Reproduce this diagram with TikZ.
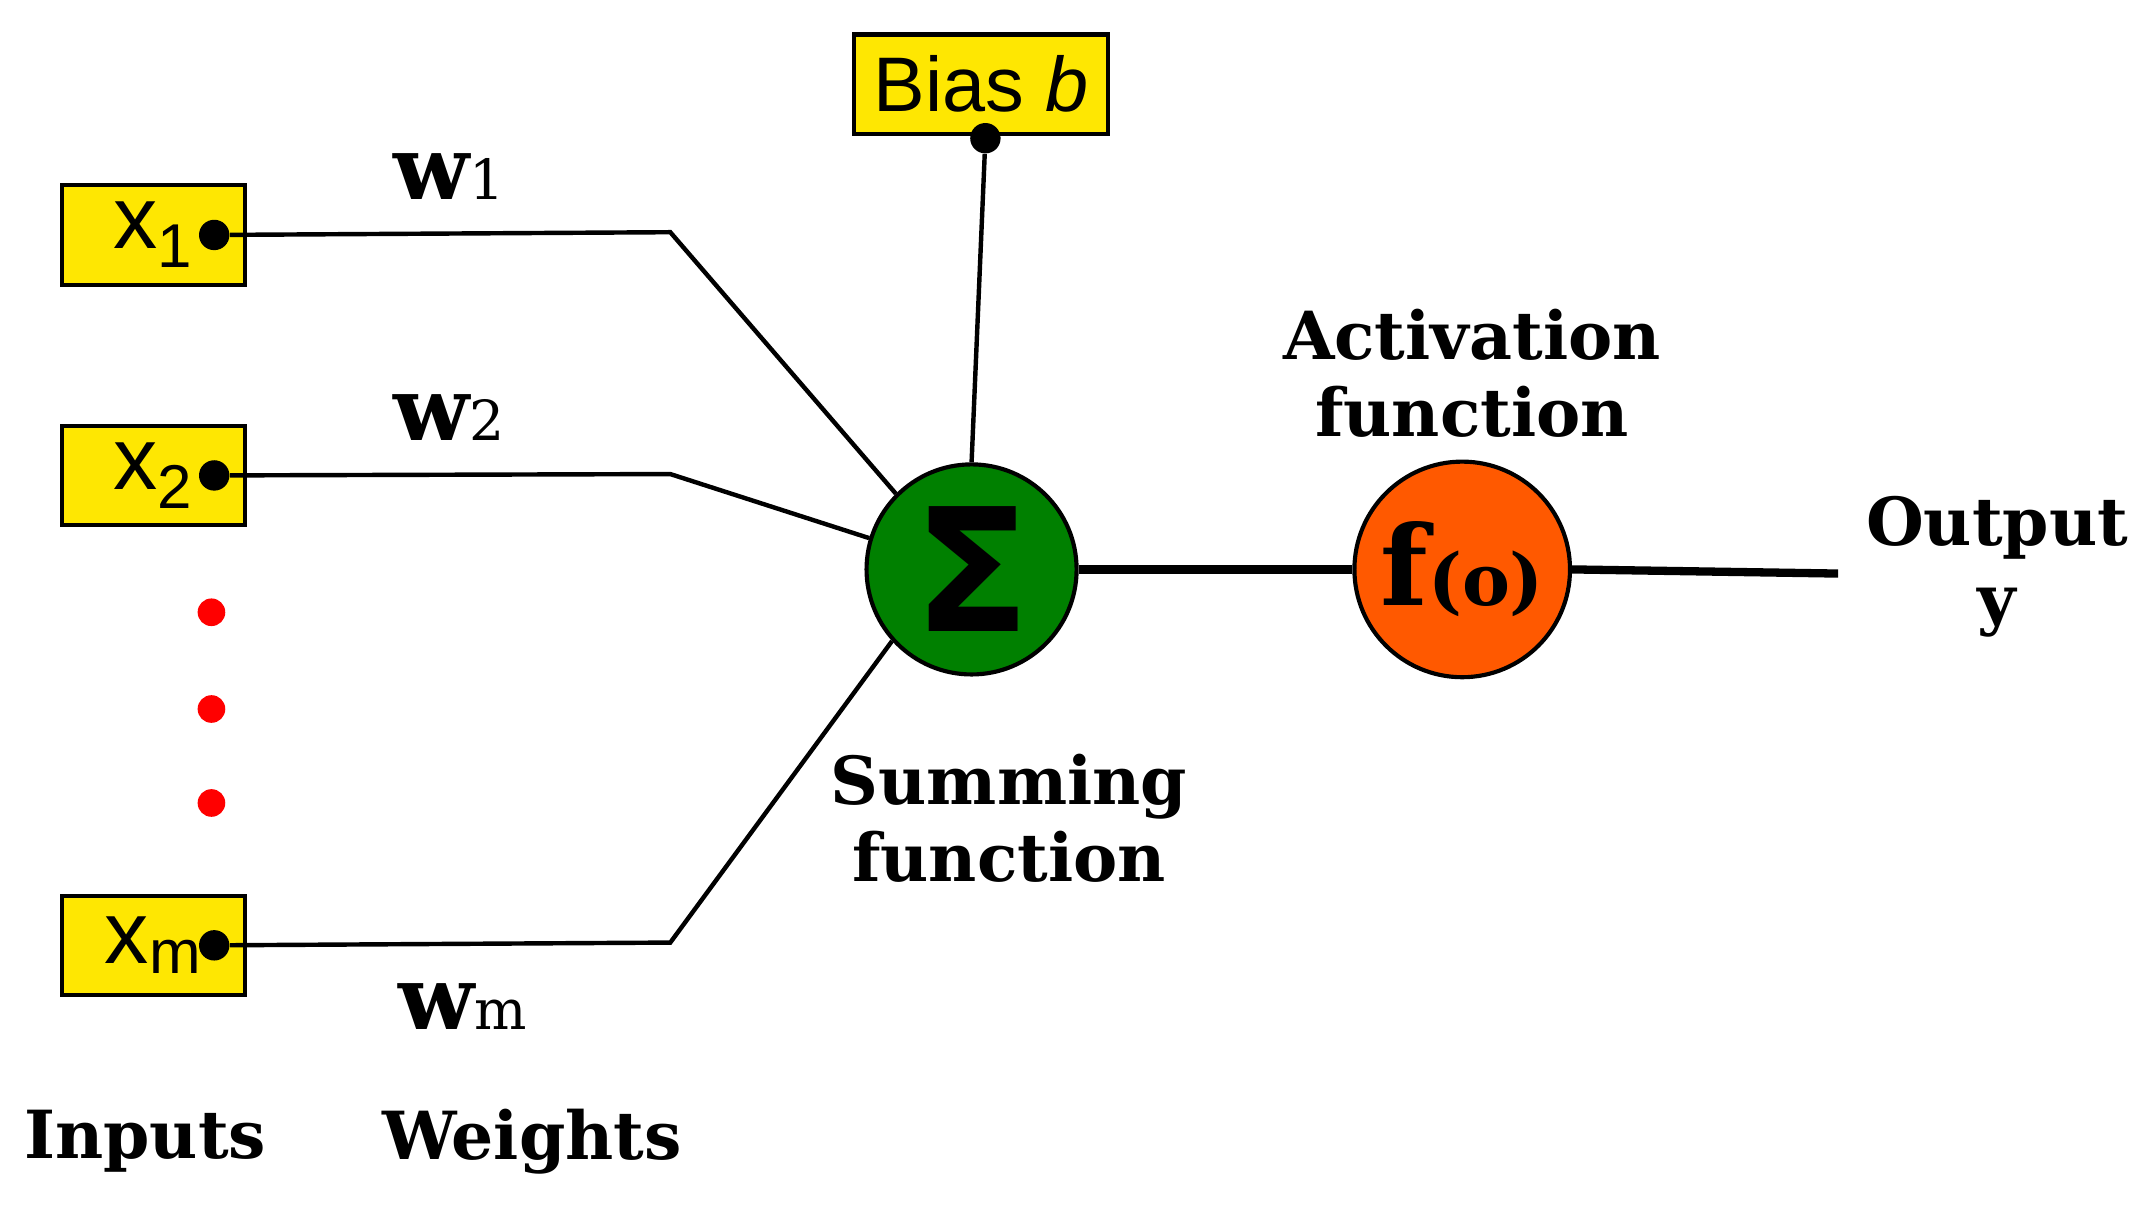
\documentclass[tikz,border=0pt]{standalone}
\usepackage{fontspec}
\setmainfont{DejaVu Serif}
\newfontfamily\boxfont{Liberation Sans}
\newfontfamily\sigfont{DejaVu Sans}
\begin{document}
\begin{tikzpicture}[x=0.5pt,y=-0.5pt,
 inbox/.style={draw=black,line width=1.5pt,fill=yellow!90!orange,minimum width=66pt,minimum height=36pt,inner sep=0pt,font=\boxfont\fontsize{32}{32}\selectfont},
 wire/.style={line width=1.6pt},
 pin/.style={circle,fill=black,inner sep=0pt,minimum size=11pt},
 lbl/.style={font=\bfseries\fontsize{24}{28}\selectfont,align=center},
 rdot/.style={circle,fill=red,inner sep=0pt,minimum size=10pt}]
\useasboundingbox (0,0) rectangle (1560,875);
\node[inbox,anchor=center] (x1) at (111,170) {x\textsubscript{1}\hspace{14pt}};
\node[inbox] (x2) at (111,344) {x\textsubscript{2}\hspace{14pt}};
\node[inbox] (xm) at (111,684) {x\textsubscript{m}\hspace{10pt}};
\node[pin] (p1) at (155,170) {};
\node[pin] (p2) at (155,344) {};
\node[pin] (pm) at (155,684) {};
\node[rdot] (d1) at (153,443) {};
\node[rdot] (d2) at (153,513) {};
\node[rdot] (d3) at (153,581) {};
\node[circle,draw=black,line width=1.5pt,fill=green!50!black,minimum size=76pt,inner sep=0pt,font=\sigfont\bfseries\fontsize{62}{62}\selectfont] (sum) at (703,412) {Σ};
\node[circle,draw=black,line width=1.5pt,fill=orange!70!red,minimum size=78pt,inner sep=0pt] (f) at (1058,412) {\bfseries\fontsize{40}{40}\selectfont f\fontsize{26}{26}\selectfont(o)};
\node[draw=black,line width=1.5pt,fill=yellow!90!orange,minimum width=92pt,minimum height=36pt,inner sep=0pt,font=\boxfont\fontsize{28}{28}\selectfont] (bias) at (710,61) {Bias \textit{b}};
\node[pin] (pb) at (713,100) {};
\coordinate (k1) at (485,168);
\coordinate (k2) at (485,343);
\coordinate (km) at (485,682);
\coordinate (out) at (1330,415);
\draw[wire] (p1) -- (k1) -- (sum.135);
\draw[wire] (p2) -- (k2) -- (sum.163);
\draw[wire] (pm) -- (km) -- (sum.222);
\draw[wire] (pb) -- (sum.north);
\draw[line width=3pt] (sum.east) -- (f.west);
\draw[line width=3pt] (f.east) -- (out);
\node[lbl,font=\bfseries\fontsize{32}{32}\selectfont] (w1) at (325,128) {w\fontsize{20}{20}\mdseries\selectfont 1};
\node[lbl,font=\bfseries\fontsize{32}{32}\selectfont] (w2) at (325,302) {w\fontsize{20}{20}\mdseries\selectfont 2};
\node[lbl,font=\bfseries\fontsize{32}{32}\selectfont] (wm) at (335,728) {w\fontsize{20}{20}\mdseries\selectfont m};
\node[lbl] (act) at (1065,270) {Activation\\function};
\node[lbl] (sumf) at (730,592) {Summing\\function};
\node[lbl] (outl) at (1445,410) {Output\\y};
\node[lbl] (inp) at (105,826) {Inputs};
\node[lbl] (wts) at (385,826) {Weights};
\end{tikzpicture}
\end{document}
